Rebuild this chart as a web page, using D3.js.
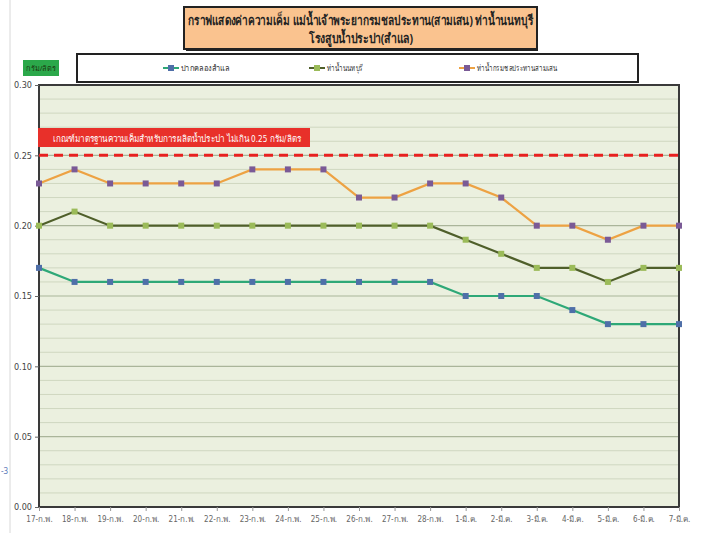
<!DOCTYPE html>
<html>
<head>
<meta charset="utf-8">
<script src="https://cdn.jsdelivr.net/npm/d3@7"></script>
<style>
  body { margin: 0; background: #fff; }
  svg { display: block; font-family: "Noto Sans", "DejaVu Sans", sans-serif; }
</style>
</head>
<body>
<svg width="705" height="533"></svg>
<script>
// dates on the x axis
var dates = ["17-ก.พ.", "18-ก.พ.", "19-ก.พ.", "20-ก.พ.", "21-ก.พ.", "22-ก.พ.", "23-ก.พ.",
  "24-ก.พ.", "25-ก.พ.", "26-ก.พ.", "27-ก.พ.", "28-ก.พ.", "1-มี.ค.", "2-มี.ค.",
  "3-มี.ค.", "4-มี.ค.", "5-มี.ค.", "6-มี.ค.", "7-มี.ค."];

// salinity, g/l
var samlae = [0.17, 0.16, 0.16, 0.16, 0.16, 0.16, 0.16, 0.16, 0.16, 0.16, 0.16, 0.16,
  0.15, 0.15, 0.15, 0.14, 0.13, 0.13, 0.13];
var nonthaburi = [0.20, 0.21, 0.20, 0.20, 0.20, 0.20, 0.20, 0.20, 0.20, 0.20, 0.20, 0.20,
  0.19, 0.18, 0.17, 0.17, 0.16, 0.17, 0.17];
var samsen = [0.23, 0.24, 0.23, 0.23, 0.23, 0.23, 0.24, 0.24, 0.24, 0.22, 0.22, 0.23,
  0.23, 0.22, 0.20, 0.20, 0.19, 0.20, 0.20];

var seriesNames = ["ปากคลองสำแล", "ท่าน้ำนนทบุรี", "ท่าน้ำกรมชลประทานสามเสน"];
var yTicks = [0, 0.05, 0.10, 0.15, 0.20, 0.25, 0.30];
var limit = 0.25;

var series = [
  { name: seriesNames[0], values: samlae, line: "#2ea877", mark: "#4f6fa8", lx: 163, tw: 48 },
  { name: seriesNames[1], values: nonthaburi, line: "#4f5f2a", mark: "#9bbb59", lx: 309, tw: 36 },
  { name: seriesNames[2], values: samsen, line: "#eda243", mark: "#7a5a96", lx: 459, tw: 80 }
];

var svg = d3.select("svg");
var pLeft = 39, pRight = 679, pTop = 85, pBottom = 507;
var narrow = "'Liberation Sans Narrow', 'DejaVu Sans Condensed', sans-serif";

// faint page edge on the left
svg.append("line").attr("x1", 10).attr("x2", 10).attr("y1", 0).attr("y2", 533)
  .attr("stroke", "#d8d8d8");
svg.append("text").attr("x", 1).attr("y", 474).attr("font-size", 8)
  .attr("fill", "#5a78b8").text("-3");

var x = d3.scalePoint().domain(dates).range([pLeft, pRight]);
var y = d3.scaleLinear().domain([0, 0.30]).range([pBottom, pTop]);

// plot area
svg.append("rect").attr("x", pLeft).attr("y", pTop)
  .attr("width", pRight - pLeft).attr("height", pBottom - pTop)
  .attr("fill", "#ebf0df");

// grid every 0.01
var grid = d3.range(1, 30).map(d => d / 100);
svg.append("g").selectAll("line").data(grid).enter().append("line")
  .attr("x1", pLeft).attr("x2", pRight)
  .attr("y1", d => y(d)).attr("y2", d => y(d))
  .attr("stroke", (d, i) => (i + 1) % 5 === 0 ? "#aab59a" : "#cfd7c0")
  .attr("stroke-width", (d, i) => (i + 1) % 5 === 0 ? 1.2 : 1);

svg.append("rect").attr("x", pLeft).attr("y", pTop)
  .attr("width", pRight - pLeft).attr("height", pBottom - pTop)
  .attr("fill", "none").attr("stroke", "#3a3a3a").attr("stroke-width", 2);

// y axis
var yAxis = svg.append("g").attr("transform", "translate(" + pLeft + ",0)")
  .call(d3.axisLeft(y).tickValues(yTicks).tickFormat(d3.format(".2f")).tickSize(4));
yAxis.select(".domain").remove();
yAxis.selectAll("line").attr("stroke", "#666");
yAxis.selectAll("text").attr("font-size", 9).attr("fill", "#444").attr("font-family", narrow);

// x axis
var xAxis = svg.append("g").attr("transform", "translate(0," + pBottom + ")")
  .call(d3.axisBottom(x).tickSize(4).tickPadding(5));
xAxis.select(".domain").remove();
xAxis.selectAll("line").attr("stroke", "#999");
xAxis.selectAll("text").attr("font-size", 8).attr("fill", "#666").attr("font-family", narrow);

// limit line and its label
svg.append("line").attr("x1", pLeft).attr("x2", pRight)
  .attr("y1", y(limit)).attr("y2", y(limit))
  .attr("stroke", "#e8201f").attr("stroke-width", 3).attr("stroke-dasharray", "9,6");
svg.append("rect").attr("x", 38).attr("y", 128).attr("width", 272).attr("height", 19)
  .attr("fill", "#e8302a");
svg.append("text").attr("x", 53).attr("y", 141.5)
  .attr("font-size", 9.5).attr("fill", "#fff").attr("font-family", narrow)
  .attr("textLength", 248).attr("lengthAdjust", "spacingAndGlyphs")
  .text("เกณฑ์มาตรฐานความเค็มสำหรับการผลิตน้ำประปา ไม่เกิน 0.25 กรัม/ลิตร");

// lines
var line = d3.line().x((d, i) => x(dates[i])).y(d => y(d));
series.forEach(function (s) {
  svg.append("path").datum(s.values).attr("d", line)
    .attr("fill", "none").attr("stroke", s.line).attr("stroke-width", 2.2);
  svg.append("g").selectAll("rect").data(s.values).enter().append("rect")
    .attr("x", (d, i) => x(dates[i]) - 3).attr("y", d => y(d) - 3)
    .attr("width", 6).attr("height", 6).attr("fill", s.mark);
});

// title
svg.append("rect").attr("x", 184).attr("y", 7).attr("width", 353).attr("height", 42)
  .attr("fill", "#fac38f").attr("stroke", "#222").attr("stroke-width", 2);
svg.append("line").attr("x1", 186).attr("x2", 538).attr("y1", 50).attr("y2", 50)
  .attr("stroke", "#222").attr("stroke-width", 2);
svg.append("text").attr("x", 188).attr("y", 25)
  .attr("font-size", 13).attr("font-weight", "bold").attr("fill", "#222")
  .attr("textLength", 345).attr("lengthAdjust", "spacingAndGlyphs")
  .text("กราฟแสดงค่าความเค็ม แม่น้ำเจ้าพระยากรมชลประทาน(สามเสน) ท่าน้ำนนทบุรี");
svg.append("text").attr("x", 309).attr("y", 43)
  .attr("font-size", 13).attr("font-weight", "bold").attr("fill", "#222")
  .attr("textLength", 104).attr("lengthAdjust", "spacingAndGlyphs")
  .text("โรงสูบน้ำประปา(สำแล)");

// unit box
svg.append("rect").attr("x", 23).attr("y", 60).attr("width", 36).attr("height", 16)
  .attr("fill", "#2ba84a");
svg.append("text").attr("x", 26).attr("y", 71)
  .attr("font-size", 7.5).attr("fill", "#1b3a12")
  .attr("textLength", 30).attr("lengthAdjust", "spacingAndGlyphs").text("กรัม/ลิตร");

// legend
svg.append("rect").attr("x", 77).attr("y", 54).attr("width", 561).attr("height", 28)
  .attr("fill", "#fff").attr("stroke", "#222").attr("stroke-width", 2);
var leg = svg.append("g").selectAll("g").data(series).enter().append("g")
  .attr("transform", d => "translate(" + d.lx + ",68)");
leg.append("line").attr("x1", 0).attr("x2", 16)
  .attr("stroke", d => d.line).attr("stroke-width", 2);
leg.append("rect").attr("x", 5).attr("y", -3).attr("width", 6).attr("height", 6)
  .attr("fill", d => d.mark);
leg.append("text").attr("x", 18).attr("y", 3).attr("font-size", 8.5).attr("fill", "#333")
  .attr("textLength", d => d.tw).attr("lengthAdjust", "spacingAndGlyphs")
  .text(d => d.name);
</script>
</body>
</html>
